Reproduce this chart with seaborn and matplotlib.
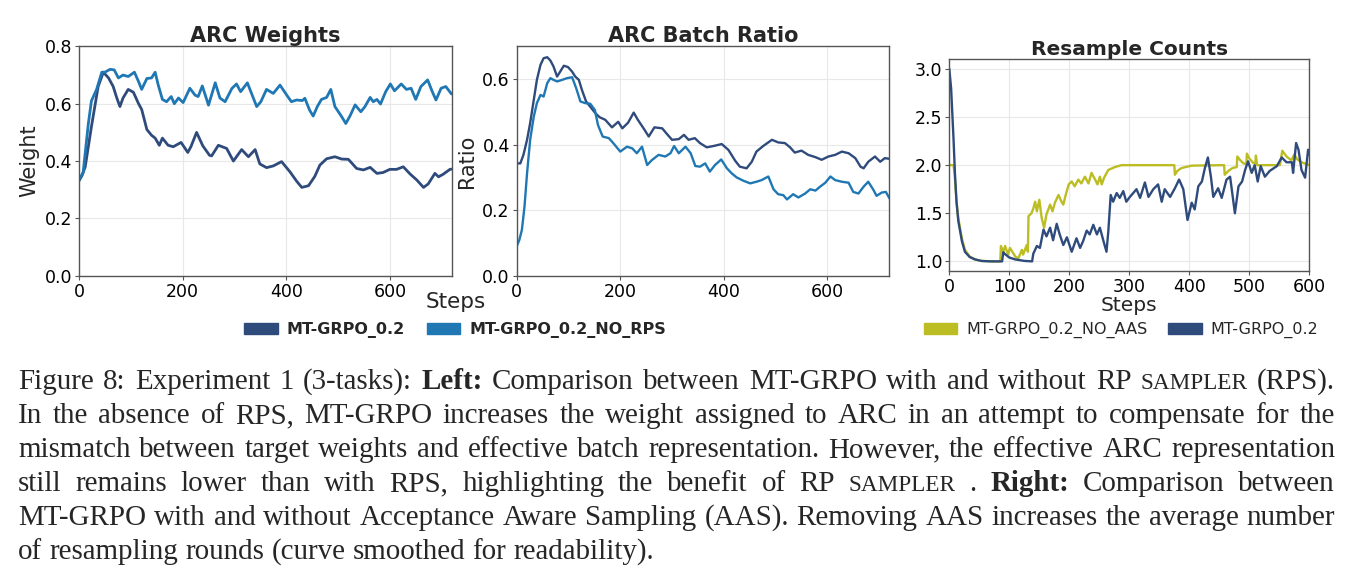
import matplotlib
matplotlib.use("Agg")
import matplotlib.pyplot as plt
import seaborn as sns
import pandas as pd
from matplotlib.patches import Patch

# ---------------- data ----------------
w_steps_a = [0, 6, 12, 24, 37, 47, 57, 66, 73, 79, 85, 95, 105, 115, 121, 131, 140, 147, 155, 161, 172, 182, 197, 210, 216,
             227, 239, 252, 256, 269, 285, 298, 314, 327, 340, 349, 362, 375, 391, 407, 420, 430, 443, 455, 465, 478, 494,
             507, 520, 536, 549, 562, 575, 587, 600, 613, 626, 639, 652, 665, 674, 687, 694, 703, 716, 720]
w_vals_a = [.331, .35, .38, .52, .66, .71, .69, .66, .62, .59, .62, .65, .64, .60, .58, .51, .49, .48, .455, .48, .455, .45,
            .465, .43, .45, .50, .453, .42, .418, .455, .444, .40, .44, .415, .44, .39, .377, .383, .398, .363, .33, .308,
            .314, .346, .386, .408, .415, .407, .406, .374, .369, .378, .357, .36, .371, .371, .38, .355, .334, .308, .32,
            .357, .345, .354, .371, .372]

w_steps_b = [0, 8, 18, 24, 34, 44, 50, 60, 68, 76, 85, 95, 107, 115, 121, 131, 140, 147, 153, 161, 169, 178, 184, 192, 201,
             214, 224, 230, 238, 250, 263, 272, 282, 295, 304, 312, 325, 333, 343, 351, 362, 375, 388, 401, 410, 420, 431,
             436, 445, 452, 460, 468, 478, 486, 494, 507, 515, 523, 533, 544, 552, 562, 568, 575, 582, 592, 601, 609, 622,
             632, 641, 650, 660, 673, 682, 689, 699, 708, 719]
w_vals_b = [.334, .36, .53, .61, .65, .71, .71, .72, .718, .69, .70, .695, .71, .677, .65, .688, .69, .71, .665, .615, .607,
            .625, .60, .62, .604, .654, .63, .625, .662, .595, .673, .62, .607, .653, .669, .642, .673, .636, .59, .607, .65,
            .636, .665, .63, .607, .613, .611, .619, .578, .557, .59, .615, .622, .65, .59, .555, .531, .557, .596, .572,
            .59, .622, .607, .615, .599, .642, .669, .645, .669, .65, .654, .615, .66, .683, .642, .613, .654, .66, .634]

r_steps_a = [0, 7, 13, 20, 26, 33, 39, 46, 52, 59, 65, 71, 78, 84, 91, 99, 107, 113, 120, 126, 134, 142, 152, 160, 171, 184,
             196, 204, 215, 226, 234, 245, 255, 266, 281, 290, 300, 313, 323, 332, 344, 354, 367, 380, 396, 409, 422, 431,
             444, 454, 463, 476, 493, 505, 518, 528, 537, 550, 563, 577, 589, 602, 615, 628, 641, 654, 664, 670, 679, 692,
             702, 711, 720]
r_vals_a = [.343, .343, .369, .415, .466, .537, .598, .644, .664, .667, .657, .639, .608, .623, .641, .637, .623, .608, .598,
            .567, .532, .516, .496, .484, .476, .453, .47, .45, .467, .498, .476, .45, .425, .453, .45, .433, .415, .417,
            .43, .415, .42, .405, .392, .396, .402, .384, .351, .333, .328, .348, .379, .396, .415, .407, .405, .392, .376,
            .382, .369, .362, .354, .364, .369, .379, .374, .359, .333, .328, .348, .364, .348, .359, .357]

r_steps_b = [0, 5, 10, 15, 20, 26, 33, 39, 46, 52, 59, 65, 71, 78, 88, 97, 107, 115, 123, 132, 142, 151, 157, 166, 178, 187,
             200, 213, 223, 232, 242, 252, 261, 274, 287, 297, 304, 313, 326, 336, 345, 354, 364, 373, 383, 395, 406, 415,
             425, 438, 451, 463, 473, 486, 496, 505, 515, 522, 534, 544, 557, 567, 577, 586, 596, 606, 615, 628, 641, 650,
             660, 670, 679, 689, 695, 705, 713, 720]
r_vals_b = [.09, .109, .14, .21, .313, .415, .486, .527, .552, .547, .588, .603, .598, .593, .598, .603, .606, .572, .532,
            .527, .525, .506, .46, .425, .42, .404, .379, .394, .389, .374, .394, .338, .353, .369, .364, .374, .396, .374,
            .394, .374, .335, .333, .343, .318, .338, .355, .328, .313, .30, .29, .282, .287, .292, .303, .264, .249, .246,
            .233, .249, .239, .251, .264, .26, .272, .284, .303, .292, .287, .284, .256, .251, .272, .287, .262, .244, .254,
            .256, .236]

c_steps_a = [0, 3, 7, 9.5, 12, 15, 21, 26, 34, 43, 54, 70, 88, 90, 92, 100, 110, 125, 138, 140, 146, 151, 157, 162, 168,
             173, 179, 184, 190, 196, 204, 212, 218, 223, 229, 234, 240, 246, 251, 257, 262, 265, 269, 273, 279, 284, 290,
             295, 301, 312, 318, 326, 332, 340, 348, 354, 359, 368, 376, 383, 390, 397, 404, 409, 415, 421, 426, 431, 436,
             440, 448, 454, 462, 468, 476, 482, 488, 493, 498, 504, 509, 514, 519, 526, 534, 546, 554, 562, 571, 573, 578,
             582, 587, 593, 598, 600]
c_vals_a = [3.0, 2.8, 2.28, 1.9, 1.62, 1.42, 1.21, 1.10, 1.045, 1.02, 1.004, 1.0, 1.0, 1.095, 1.08, 1.04, 1.02, 1.005, 1.0,
            1.08, 1.16, 1.14, 1.33, 1.26, 1.35, 1.22, 1.39, 1.28, 1.17, 1.25, 1.10, 1.24, 1.14, 1.21, 1.32, 1.28, 1.38,
            1.28, 1.35, 1.21, 1.10, 1.31, 1.69, 1.62, 1.71, 1.66, 1.73, 1.62, 1.67, 1.75, 1.66, 1.82, 1.67, 1.75, 1.80,
            1.62, 1.75, 1.67, 1.76, 1.85, 1.75, 1.43, 1.61, 1.54, 1.78, 1.83, 1.97, 2.08, 1.88, 1.67, 1.76, 1.66, 1.85,
            1.88, 1.50, 1.78, 1.83, 1.95, 2.04, 1.92, 2.00, 1.83, 1.99, 1.88, 1.94, 1.99, 2.08, 2.03, 2.03, 1.92, 2.23,
            2.16, 1.95, 1.87, 2.16, 2.11]

c_steps_b = [0, 7, 9, 12, 15, 21, 26, 34, 43, 54, 70, 85, 86, 90, 93, 98, 101, 106, 110, 115, 121, 123, 129, 131, 132, 137,
             140, 143, 146, 150, 154, 158, 162, 168, 172, 176, 182, 187, 190, 194, 199, 204, 209, 215, 220, 226, 232, 237,
             243, 247, 251, 254, 258, 265, 276, 287, 375, 376, 380, 387, 404, 458, 459, 465, 472, 479, 480, 485, 490, 495,
             496, 500, 507, 510, 511, 513, 551, 555, 562, 570, 575, 580, 587, 600]
c_vals_b = [2.0, 2.0, 1.9, 1.62, 1.45, 1.24, 1.12, 1.05, 1.02, 1.005, 1.0, 1.0, 1.16, 1.10, 1.16, 1.07, 1.14, 1.09, 1.05,
            1.03, 1.12, 1.07, 1.17, 1.10, 1.47, 1.50, 1.55, 1.62, 1.52, 1.64, 1.45, 1.35, 1.49, 1.59, 1.52, 1.61, 1.69,
            1.62, 1.59, 1.69, 1.80, 1.83, 1.78, 1.85, 1.81, 1.88, 1.81, 1.92, 1.85, 1.80, 1.88, 1.80, 1.87, 1.95, 1.98,
            2.0, 2.0, 1.90, 1.94, 1.97, 1.995, 2.0, 1.90, 1.94, 1.97, 1.98, 2.09, 2.05, 2.02, 2.01, 2.12, 2.07, 2.02, 2.02,
            2.1, 2.0, 2.0, 2.15, 2.09, 2.05, 2.11, 2.06, 2.03, 2.0]

label_a = "MT-GRPO_0.2"
label_b = "MT-GRPO_0.2_NO_RPS"
label_c = "MT-GRPO_0.2_NO_AAS"
titles = ["ARC Weights", "ARC Batch Ratio", "Resample Counts"]

NAVY = "#2f4b7c"
BLUE = "#1f77b4"
OLIVE = "#bcbd22"

# ---------------- style ----------------
sns.set_style("whitegrid", {"axes.edgecolor": "#555555", "grid.color": "#e8e8e8",
                            "xtick.bottom": True, "ytick.left": True})
plt.rcParams["font.family"] = ["DejaVu Sans"]
plt.rcParams["xtick.major.size"] = 3
plt.rcParams["ytick.major.size"] = 3
plt.rcParams["xtick.color"] = "#555555"
plt.rcParams["ytick.color"] = "#555555"
plt.rcParams["xtick.labelcolor"] = "black"
plt.rcParams["ytick.labelcolor"] = "black"

W, H = 1354, 578
fig = plt.figure(figsize=(W / 100, H / 100), dpi=100)


def box(l, t, r, b):
    return [l / W, 1 - b / H, (r - l) / W, (b - t) / H]


ax1 = fig.add_axes(box(79, 46.4, 452, 275.7))
ax2 = fig.add_axes(box(516.7, 46.4, 889.5, 275.8))
ax3 = fig.add_axes(box(949.3, 59.3, 1309.3, 271))

sns.lineplot(x=w_steps_a, y=w_vals_a, ax=ax1, color=NAVY, lw=2.0, estimator=None)
sns.lineplot(x=w_steps_b, y=w_vals_b, ax=ax1, color=BLUE, lw=2.0, estimator=None)
sns.lineplot(x=r_steps_a, y=r_vals_a, ax=ax2, color=NAVY, lw=1.7, estimator=None)
sns.lineplot(x=r_steps_b, y=r_vals_b, ax=ax2, color=BLUE, lw=1.7, estimator=None)
sns.lineplot(x=c_steps_b, y=c_vals_b, ax=ax3, color=OLIVE, lw=1.7, estimator=None)
sns.lineplot(x=c_steps_a, y=c_vals_a, ax=ax3, color=NAVY, lw=1.7, estimator=None)

ax1.set_xlim(0, 720)
ax1.set_ylim(0, 0.8)
ax1.set_yticks([0, 0.2, 0.4, 0.6, 0.8])
ax1.set_xticks([0, 200, 400, 600])
ax2.set_xlim(0, 720)
ax2.set_ylim(0, 0.7)
ax2.set_yticks([0, 0.2, 0.4, 0.6])
ax2.set_xticks([0, 200, 400, 600])
ax3.set_xlim(0, 600)
ax3.set_ylim(0.9, 3.1)
ax3.set_yticks([1.0, 1.5, 2.0, 2.5, 3.0])
ax3.set_xticks([0, 100, 200, 300, 400, 500, 600])

for ax in (ax1, ax2):
    ax.tick_params(labelsize=12.5, pad=2)
    for s in ax.spines.values():
        s.set_linewidth(1.0)
ax3.tick_params(labelsize=12.5, pad=2)
for s in ax3.spines.values():
    s.set_linewidth(1.0)

ax1.set_title(titles[0], fontsize=15, fontweight="bold", pad=3)
ax2.set_title(titles[1], fontsize=15, fontweight="bold", pad=3)
ax3.set_title(titles[2], fontsize=14.5, fontweight="bold", pad=3)
ax1.set_ylabel("Weight", fontsize=15, labelpad=4)
ax2.set_ylabel("Ratio", fontsize=15, labelpad=4)
ax1.set_xlabel("")
ax2.set_xlabel("")
ax3.set_xlabel("Steps", fontsize=14.5, labelpad=0)
fig.text(456 / W, 1 - 302 / H, "Steps", fontsize=15.5, ha="center", va="center")

h_left = [Patch(facecolor=NAVY, edgecolor=NAVY, label=label_a),
          Patch(facecolor=BLUE, edgecolor=BLUE, label=label_b)]
fig.legend(handles=h_left, loc="center", bbox_to_anchor=(455 / W, 1 - 330 / H), ncol=2, frameon=False,
           prop={"weight": "bold", "size": 11.5}, handlelength=2.1, handleheight=0.7, handletextpad=0.55,
           columnspacing=1.4, borderaxespad=0)
h_right = [Patch(facecolor=OLIVE, edgecolor=OLIVE, label=label_c),
           Patch(facecolor=NAVY, edgecolor=NAVY, label=label_a)]
fig.legend(handles=h_right, loc="center", bbox_to_anchor=(1121 / W, 1 - 330 / H), ncol=2, frameon=False,
           prop={"size": 11.5}, handlelength=2.1, handleheight=0.7, handletextpad=0.55,
           columnspacing=1.3, borderaxespad=0)

# ---------------- caption ----------------
R, B, S = "r", "b", "s"
caption_lines = [
    [("Figure 8: Experiment 1 (3-tasks):", R), ("Left:", B), ("Comparison between MT-GRPO with and without RP", R),
     ("SAMPLER", S), ("(RPS).", R)],
    [("In the absence of RPS, MT-GRPO increases the weight assigned to ARC in an attempt to compensate for the", R)],
    [("mismatch between target weights and effective batch representation. However, the effective ARC representation", R)],
    [("still remains lower than with RPS, highlighting the benefit of RP", R), ("SAMPLER", S), (".", R), ("Right:", B),
     ("Comparison between", R)],
    [("MT-GRPO with and without Acceptance Aware Sampling (AAS). Removing AAS increases the average number", R)],
    [("of resampling rounds (curve smoothed for readability).", R)],
]
CAP_FONT = "Liberation Serif"
renderer = fig.canvas.get_renderer()


def tokens(line):
    out = []
    for txt, st in line:
        for wd in txt.split(" "):
            if wd:
                out.append((wd, st))
    return out


def tw(word, st, size):
    kw = dict(fontsize=size * (0.8 if st == S else 1.0), fontweight="bold" if st == B else "normal",
              family=CAP_FONT)
    t = fig.text(0, 0, word, **kw)
    w = t.get_window_extent(renderer).width
    t.remove()
    return w, kw


left_x, right_x = 18, 1335
base0, lead = 389, 34
size0 = 20
sp = tw("a a", R, size0)[0] - tw("aa", R, size0)[0]
nat = []
for ln in caption_lines[:-1]:
    tk = tokens(ln)
    nat.append(sum(tw(wd, st, size0)[0] for wd, st in tk) + sp * (len(tk) - 1))
size = size0 * (right_x - left_x) / max(nat) * 0.995

for i, ln in enumerate(caption_lines):
    tk = tokens(ln)
    meas = [tw(wd, st, size) for wd, st in tk]
    total = sum(m[0] for m in meas)
    if i < len(caption_lines) - 1 and len(tk) > 1:
        gap = (right_x - left_x - total) / (len(tk) - 1)
    else:
        gap = tw("a a", R, size)[0] - tw("aa", R, size)[0]
    x = left_x
    y = 1 - (base0 + i * lead) / H
    for (wd, st), (w, kw) in zip(tk, meas):
        fig.text(x / W, y, wd, va="baseline", ha="left", **kw)
        x += w + gap

fig.savefig("out.png", dpi=100)
